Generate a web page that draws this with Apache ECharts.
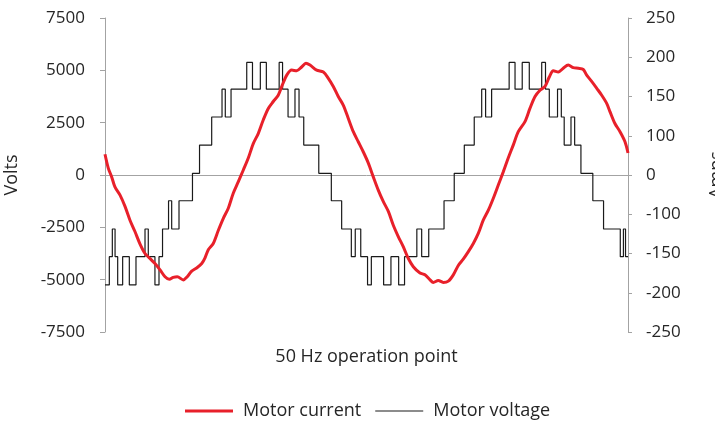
<!DOCTYPE html>
<html>
<head>
<meta charset="utf-8">
<script src="https://cdn.jsdelivr.net/npm/echarts@6/dist/echarts.min.js"></script>
<style>
  html, body { margin: 0; padding: 0; background: #fff; }
  #motorChart { width: 715px; height: 421px; }
</style>
</head>
<body>
<div id="motorChart"></div>
<script>
// time in ms over two 50 Hz periods
const voltTime = [
  0, 0.33, 0.56, 0.77, 0.97, 1.35, 1.86, 2.37, 3.06, 3.31, 3.82, 4.13, 4.40, 4.86, 5.10, 5.66,
  6.69, 7.23, 8.16, 8.95, 9.20, 9.64, 10.84, 11.28, 11.88, 12.34, 13.32, 13.58, 14.00, 14.53, 14.84, 15.20,
  16.35, 17.31, 18.10, 18.84, 19.14, 19.56, 20.08, 20.37, 21.31, 21.87, 22.46, 22.91, 23.85, 24.22, 24.76, 25.93,
  26.71, 27.48, 28.24, 28.81, 29.11, 29.57, 30.91, 31.36, 31.91, 32.45, 33.40, 33.69, 33.98, 34.61, 34.90, 35.12,
  35.64, 35.92, 36.40, 37.31, 38.13, 39.41, 39.65, 39.81, 40.00
]
const voltValue = [
  -5250, -3900, -2580, -3900, -5250, -3900, -5250, -3900, -2580, -3900, -5250, -3900, -2580, -1230, -2580, -1230,
  80, 1430, 2770, 4100, 2770, 4100, 5380, 4100, 5380, 4100, 5380, 4100, 2770, 4100, 2770, 1430,
  80, -1230, -2580, -3900, -2580, -3900, -5250, -3900, -5250, -3900, -5250, -3900, -2580, -3900, -2580, -1230,
  80, 1430, 2770, 4100, 2770, 4100, 5380, 4100, 5380, 4100, 5380, 4100, 2770, 4100, 2770, 1430,
  2770, 1430, 80, -1230, -2580, -3900, -2580, -3900, -3900
]

const currTime = [
  0, 0.25, 0.51, 0.76, 1.15, 1.53, 1.91, 2.29, 2.68, 3.06, 3.44, 3.82, 4.21, 4.59, 4.92, 5.22,
  5.53, 5.99, 6.29, 6.63, 7.01, 7.40, 7.65, 7.90, 8.28, 8.67, 9.05, 9.43, 9.81, 10.19, 10.58, 10.96,
  11.34, 11.72, 12.11, 12.49, 12.87, 13.25, 13.56, 13.90, 14.28, 14.66, 15.04, 15.37, 15.68, 16.19, 16.70, 17.08,
  17.46, 17.84, 18.23, 18.61, 18.99, 19.37, 19.75, 20.14, 20.52, 20.90, 21.28, 21.67, 22.05, 22.43, 22.81, 23.20,
  23.58, 24.09, 24.47, 24.86, 25.11, 25.49, 25.87, 26.26, 26.64, 27.02, 27.40, 27.79, 28.17, 28.55, 28.93, 29.32,
  29.70, 30.08, 30.46, 30.84, 31.23, 31.61, 32.12, 32.50, 32.89, 33.27, 33.65, 33.98, 34.29, 34.67, 35.05, 35.43,
  35.82, 36.20, 36.58, 36.84, 37.22, 37.61, 37.99, 38.37, 38.62, 39.00, 39.39, 39.77, 40.00
]
const currValue = [
  33, 11, -3, -19, -32, -50, -72, -90, -110, -125, -133, -141, -151, -162, -166, -163,
  -162, -167, -162, -153, -148, -141, -132, -119, -109, -88, -69, -53, -29, -11, 8, 27,
  50, 66, 88, 106, 117, 127, 143, 159, 167, 166, 172, 178, 175, 167, 164, 154,
  141, 125, 111, 90, 69, 53, 37, 19, -3, -24, -42, -58, -80, -98, -114, -133,
  -146, -156, -159, -167, -171, -168, -171, -169, -159, -144, -134, -122, -109, -93, -72, -56,
  -37, -16, 5, 27, 48, 69, 85, 106, 125, 135, 141, 156, 166, 164, 170, 175,
  171, 170, 168, 159, 149, 138, 127, 114, 101, 82, 69, 53, 35
]

const ampTicks = ['-250', '-200', '-150', '-100', '0', '100', '150', '200', '250']

const axisGray = '#a3a3a3'
const textColor = '#262626'
const fontFamily = '"Open Sans", "Noto Sans", sans-serif'
const fontSize = 18

let myChart = echarts.init(document.getElementById('motorChart'))

let option = {
  animation: false,
  textStyle: { fontFamily: fontFamily },
  grid: { left: 105, right: 87, top: 18, bottom: 89, outerBoundsMode: 'none' },
  legend: {
    left: 185,
    bottom: 1,
    padding: 0,
    itemWidth: 48,
    itemHeight: 14,
    itemGap: 14,
    textStyle: { fontSize: fontSize, color: textColor, fontFamily: fontFamily, padding: [0, 0, 0, 5] },
    data: [
      { name: 'Motor current', icon: 'path://M0,0H48V3H0Z', itemStyle: { color: '#e8202a' } },
      { name: 'Motor voltage', icon: 'path://M0,0H48V1H0Z', itemStyle: { color: '#1a1a1a' } },
    ],
  },
  xAxis: [
    {
      type: 'value',
      min: 0,
      max: 40,
      axisLine: { onZero: true, onZeroAxisIndex: 0, lineStyle: { color: axisGray, width: 1 } },
      axisTick: { show: false },
      axisLabel: { show: false },
      splitLine: { show: false },
    },
    {
      // only carries the axis name at the bottom of the grid
      type: 'value',
      min: 0,
      max: 40,
      position: 'bottom',
      offset: 0,
      name: '50 Hz operation point',
      nameLocation: 'middle',
      nameGap: 16,
      nameTextStyle: { fontSize: fontSize, color: textColor, fontFamily: fontFamily },
      axisLine: { show: false, onZero: false },
      axisTick: { show: false },
      axisLabel: { show: false },
      splitLine: { show: false },
    },
  ],
  yAxis: [
    {
      type: 'value',
      min: -7500,
      max: 7500,
      interval: 2500,
      name: 'Volts',
      nameLocation: 'middle',
      nameGap: 84,
      nameTextStyle: { fontSize: fontSize, color: textColor, fontFamily: fontFamily },
      axisLine: { show: true, onZero: false, lineStyle: { color: axisGray } },
      axisTick: { show: true, length: 5, lineStyle: { color: axisGray } },
      axisLabel: {
        margin: 20,
        fontSize: 17,
        color: textColor,
        fontFamily: fontFamily,
        formatter: function (value) {
          return String(value)
        },
      },
      splitLine: { show: false },
    },
    {
      type: 'value',
      position: 'right',
      min: -250,
      max: 250,
      interval: 62.5,
      name: 'Amps',
      nameLocation: 'middle',
      nameGap: 80,
      nameTextStyle: { fontSize: fontSize, color: textColor, fontFamily: fontFamily },
      axisLine: { show: true, onZero: false, lineStyle: { color: axisGray } },
      axisTick: { show: true, length: 4, lineStyle: { color: axisGray } },
      axisLabel: {
        margin: 18,
        fontSize: 17,
        color: textColor,
        fontFamily: fontFamily,
        formatter: function (value) {
          return ampTicks[Math.round((value + 250) / 62.5)]
        },
      },
      splitLine: { show: false },
    },
  ],
  series: [
    {
      name: 'Motor current',
      type: 'line',
      xAxisIndex: 0,
      yAxisIndex: 1,
      z: 3,
      smooth: 0.3,
      symbol: 'none',
      data: currTime.map((t, i) => [t, currValue[i]]),
      lineStyle: { color: '#e8202a', width: 3 },
      itemStyle: { color: '#e8202a' },
    },
    {
      name: 'Motor voltage',
      type: 'line',
      xAxisIndex: 0,
      yAxisIndex: 0,
      z: 2,
      step: 'end',
      symbol: 'none',
      data: voltTime.map((t, i) => [t, voltValue[i]]),
      lineStyle: { color: '#1a1a1a', width: 1.2 },
      itemStyle: { color: '#1a1a1a' },
    },
  ],
}

myChart.setOption(option)
</script>
</body>
</html>
